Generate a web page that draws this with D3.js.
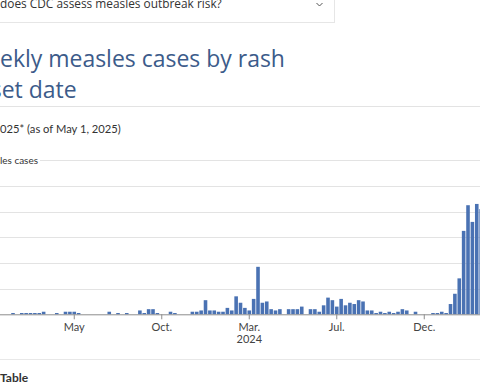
<!DOCTYPE html>
<html>
<head>
<meta charset="utf-8">
<script src="https://cdn.jsdelivr.net/npm/d3@7"></script>
<style>
  body { margin: 0; background: #fff; overflow: hidden; }
  svg { display: block; }
</style>
</head>
<body>
<svg id="page" width="480" height="384"></svg>
<script>
// Data: weekly measles cases by rash onset week (Sunday start), Jan 2023 - Apr 2025
const weeks = d3.timeWeek.range(new Date(2023, 0, 1), new Date(2025, 3, 28));
const cases = [
  0, 0, 1, 0, 0, 0, 0, 1, 0, 1,
  1, 1, 1, 1, 2, 0, 0, 1, 0, 2,
  2, 2, 1, 0, 0, 0, 0, 0, 0, 2,
  0, 1, 0, 1, 0, 0, 3, 1, 4, 4,
  1, 0, 0, 2, 1, 0, 0, 0, 2, 2,
  3, 11, 3, 3, 2, 2, 5, 3, 14, 9,
  5, 3, 12, 37, 9, 10, 4, 3, 4, 0,
  4, 4, 4, 6, 0, 4, 4, 2, 7, 13,
  11, 6, 12, 7, 9, 8, 11, 10, 3, 3,
  1, 2, 1, 2, 1, 2, 4, 3, 0, 2,
  0, 0, 0, 1, 1, 2, 1, 8, 16, 28,
  65, 85, 72, 86, 82, 90, 75, 70, 60, 50,
  40, 15
];
// x-axis ticks every 20 weeks
const tickWeeks = [1, 21, 41, 61, 81, 101, 121];
const tickMonths = ["Jan.", "May", "Oct.", "Mar.", "Jul.", "Dec.", "Apr."];
const tickYears = ["2023", "", "", "2024", "", "", "2025"];
const yTicks = [0, 20, 40, 60, 80, 100, 120];

const svg = d3.select("#page");
const sans = "Lato, 'Open Sans', sans-serif";
const head = "'Open Sans', 'Noto Sans', sans-serif";

function textWidth(str, size, font) {
  const t = svg.append("text").attr("font-family", font).attr("font-size", size)
    .style("white-space", "pre").text(str);
  const w = t.node().getComputedTextLength();
  t.remove();
  return w;
}

// text whose first `cut` characters run off the left edge of the page
function clippedText(str, cut, x0, y, size, width, font) {
  const rest = str.slice(cut);
  if (width) size = size * width / textWidth(rest, size, font);
  const pre = textWidth(str, size, font) - textWidth(rest, size, font);
  return svg.append("text")
    .attr("x", x0 - pre).attr("y", y)
    .attr("font-family", font).attr("font-size", size)
    .text(str);
}

function draw() {
  // accordion box at the top
  svg.append("rect")
    .attr("x", -20).attr("y", -20)
    .attr("width", 354.5).attr("height", 42.5)
    .attr("fill", "#fff").attr("stroke", "#e6e6e6");
  clippedText("How does CDC assess measles outbreak risk?", 4, 0, 8, 12, 222, head)
    .attr("fill", "#333");
  svg.append("path")
    .attr("d", "M316.5,3 L319.5,6 L322.5,3")
    .attr("fill", "none").attr("stroke", "#555").attr("stroke-width", 1);

  // title
  const t1 = clippedText("Weekly measles cases by rash", 2, 0, 67, 24, 285, head)
    .attr("fill", "#3c5b8a");
  clippedText("onset date", 3, 1.7, 98, +t1.attr("font-size"), null, head)
    .attr("fill", "#3c5b8a");

  svg.append("line")
    .attr("x1", 0).attr("x2", 480).attr("y1", 106.5).attr("y2", 106.5)
    .attr("stroke", "#e3e3e3");

  clippedText("2023\u20132025* (as of May 1, 2025)", 6, 0, 133, 12, 121, sans)
    .attr("fill", "#333");

  // chart
  const x = d3.scaleBand()
    .domain(d3.range(weeks.length))
    .range([-19.8, -19.8 + weeks.length * 4.375])
    .paddingInner(0.18)
    .paddingOuter(0.09);

  const y = d3.scaleLinear()
    .domain([0, 120])
    .range([314.3, 160.3]);

  // gridlines
  svg.append("g")
    .selectAll("line")
    .data(yTicks.slice(1))
    .join("line")
    .attr("x1", 0).attr("x2", 480)
    .attr("y1", d => Math.round(y(d)) + 0.5)
    .attr("y2", d => Math.round(y(d)) + 0.5)
    .attr("stroke", "#e3e3e3");

  // y-axis title sitting on the top gridline
  svg.append("rect")
    .attr("x", -60).attr("y", 154).attr("width", 100).attr("height", 13)
    .attr("fill", "#fff");
  clippedText("Measles cases", 4, 0, 164, 11, 38, sans)
    .attr("fill", "#333");

  // bars
  svg.append("g")
    .selectAll("rect")
    .data(cases)
    .join("rect")
    .attr("x", (d, i) => x(i))
    .attr("y", d => y(d))
    .attr("width", x.bandwidth())
    .attr("height", d => y(0) - y(d))
    .attr("fill", "#4a72b3");

  // x axis
  const xAxis = svg.append("g")
    .attr("transform", `translate(0,${y(0)})`)
    .call(d3.axisBottom(x)
      .tickValues(tickWeeks)
      .tickSize(5)
      .tickPadding(4)
      .tickFormat((d, i) => tickMonths[i]));
  xAxis.select(".domain").attr("stroke", "#8c8c8c").attr("d", "M-20,0.5H500");
  xAxis.selectAll(".tick line").attr("stroke", "#8c8c8c");
  xAxis.selectAll(".tick text")
    .attr("font-family", sans).attr("font-size", 11).attr("fill", "#444")
    .each(function (d, i) {
      if (!tickYears[i]) return;
      d3.select(this).append("tspan")
        .attr("x", 0).attr("dy", "1.1em").text(tickYears[i]);
    });

  // footer
  svg.append("line")
    .attr("x1", 0).attr("x2", 480).attr("y1", 359.5).attr("y2", 359.5)
    .attr("stroke", "#e8e8e8");
  svg.append("text")
    .attr("x", 0).attr("y", 382)
    .attr("font-family", sans).attr("font-size", 12).attr("font-weight", 700)
    .attr("fill", "#333")
    .text("Table");
}

// wait for the local fonts so text measuring is right
Promise.all([
  document.fonts.load("12px 'Open Sans'"),
  document.fonts.load("12px Lato"),
  document.fonts.load("bold 12px Lato")
]).then(draw, draw);
</script>
</body>
</html>
